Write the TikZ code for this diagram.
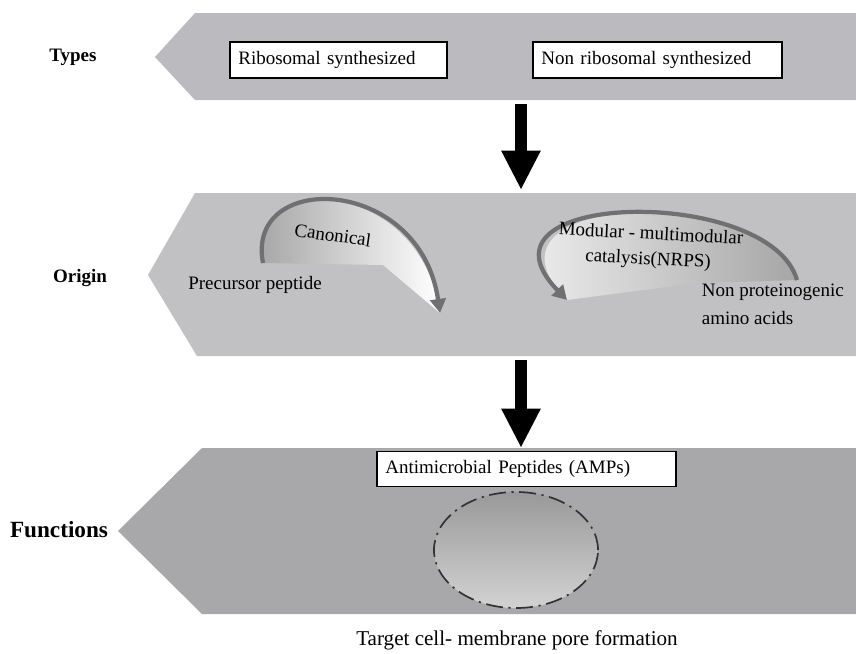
\documentclass[tikz,border=0pt]{standalone}
\usepackage{fontspec}
\setmainfont{Liberation Serif}
\usetikzlibrary{arrows.meta,shapes.geometric}
\definecolor{bandtop}{RGB}{187,187,191}
\definecolor{bandmid}{RGB}{193,193,195}
\definecolor{bandlow}{RGB}{168,168,170}
\definecolor{curvegray}{RGB}{112,112,114}

\begin{document}
\begin{tikzpicture}[x=0.025cm,y=-0.025cm,
    txt/.style={font=\fontsize{13.5}{17}\selectfont},
    lbl/.style={font=\fontsize{13.5}{17}\selectfont\bfseries},
    whitebox/.style={draw=black,line width=1.4pt,fill=white,align=left,inner xsep=6pt,minimum height=0.92cm,txt},
    bigarrow/.style={draw=black,line width=9pt,-{Triangle[length=28pt,width=26pt]}},
    curve/.style={draw=curvegray,line width=3pt,-{Triangle[length=10pt,width=11pt]}},
    pore/.style={ellipse,minimum width=4.1cm,minimum height=2.9cm,draw=gray!40!black,line width=1.2pt,
      dash pattern=on 12pt off 4pt on 1.5pt off 4pt,top color=gray!80,bottom color=gray!35}]
  \useasboundingbox (0,0) rectangle (856,653);

  % bands
  \fill[bandtop] (195,13) -- (856,13) -- (856,100) -- (195,100) -- (155,57) -- cycle;
  \fill[bandmid] (195,193) -- (856,193) -- (856,356) -- (197,356) -- (148,275) -- cycle;
  \fill[bandlow] (202,448) -- (856,448) -- (856,614) -- (202,614) -- (118,531) -- cycle;

  % row labels
  \node[lbl] (types) at (73,57) {Types};
  \node[lbl] (origin) at (80,278) {Origin};
  \node[lbl,font=\fontsize{16.5}{19}\selectfont\bfseries] (functions) at (59,530) {Functions};

  % types
  \node[whitebox,text width=5.0cm,anchor=west] (ribo) at (229,60) {Ribosomal synthesized};
  \node[whitebox,text width=5.8cm,anchor=west] (nonribo) at (532,60) {Non ribosomal synthesized};

  \coordinate (a1) at (521,104);
  \coordinate (a2) at (521,190);
  \draw[bigarrow] (a1) -- (a2);

  % origin
  \shade[left color=gray!75,right color=white] (263,263) .. controls (245,170) and (420,175) .. (440,313) -- (383,265) -- cycle;
  \draw[curve] (263,263) .. controls (245,170) and (420,175) .. (440,313);
  \shade[left color=white,right color=gray!70] (797,280) .. controls (770,185) and (460,190) .. (567,300) -- (697,283) -- cycle;
  \draw[curve] (797,280) .. controls (770,185) and (460,190) .. (567,300);

  \node[txt,rotate=-8] (canon) at (333,235) {Canonical};
  \node[txt] (prec) at (255,285) {Precursor peptide};
  \node[txt,rotate=-3,inner sep=0pt] (modular) at (651,233) {Modular - multimodular};
  \node[txt,rotate=-3,inner sep=0pt] (nrps) at (648,260) {catalysis(NRPS)};
  \node[txt,align=left,anchor=west,font=\fontsize{13.5}{20}\selectfont] (nonprot) at (697,304) {Non proteinogenic\\amino acids};

  \coordinate (b1) at (521,360);
  \coordinate (b2) at (521,448);
  \draw[bigarrow] (b1) -- (b2);

  % functions
  \node[whitebox,text width=7.05cm,anchor=west,minimum height=0.875cm] (amp) at (376,469) {Antimicrobial Peptides (AMPs)};
  \node[pore] (pore) at (516,550) {};
  \node[txt,font=\fontsize{15}{17}\selectfont] (target) at (517,640) {Target cell- membrane pore formation};
\end{tikzpicture}
\end{document}
